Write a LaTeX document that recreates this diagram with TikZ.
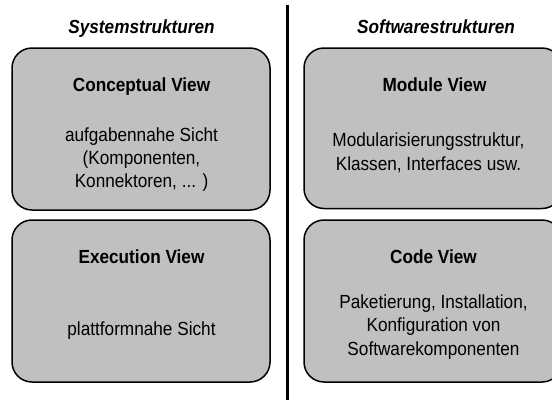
\documentclass[tikz,border=0pt]{standalone}
\usepackage{fontspec}
\setmainfont[FakeStretch=0.905]{Liberation Sans}
\begin{document}
\begin{tikzpicture}[x=1pt,y=-1pt,
  viewbox/.style={draw=black,line width=1.5pt,fill=boxgray,rounded corners=20pt,inner sep=0pt},
  txt/.style={inner sep=0pt,anchor=base,font=\fontsize{19}{23.3}\selectfont},
  head/.style={txt,font=\fontsize{19}{23.3}\selectfont\bfseries},
  coltitle/.style={txt,font=\fontsize{19}{23.3}\selectfont\bfseries\itshape},
  body/.style={inner sep=0pt,anchor=north,align=center,font=\fontsize{19}{23.3}\selectfont}]
\definecolor{boxgray}{HTML}{C0C0C0}
\useasboundingbox (0,0) rectangle (552,400);
\clip (0,0) rectangle (552,400);
% boxes
\node[viewbox,minimum width=258pt,minimum height=162pt] (conc) at (141,129) {};
\node[viewbox,minimum width=258pt,minimum height=162pt] (exec) at (141,301) {};
\node[viewbox,minimum width=258pt,minimum height=160.5pt] (mod) at (433,128.25) {};
\node[viewbox,minimum width=258pt,minimum height=162pt] (code) at (433,301) {};
% divider
\coordinate (dtop) at (287.7,5);
\coordinate (dbot) at (287.7,400);
\draw[line width=3pt] (dtop) -- (dbot);
% column titles
\node[coltitle] (tsys) at (141.5,33) {Systemstrukturen};
\node[coltitle] (tsoft) at (436,33) {Softwarestrukturen};
% conceptual view
\node[head] (hconc) at (141.5,91) {Conceptual View};
\node[body] (bconc) at (141.5,141-16.3) {\strut aufgabennahe Sicht\\\strut(Komponenten,\\\strut Konnektoren, ... )};
% execution view
\node[head] (hexec) at (141.5,263.3) {Execution View};
\node[txt] (bexec) at (141.5,335) {plattformnahe Sicht};
% module view
\node[head] (hmod) at (434.5,91) {Module View};
\node[body] (bmod) at (428.5,146.7-16.3) {\strut Modularisierungsstruktur,\\\strut Klassen, Interfaces usw.};
% code view
\node[head] (hcode) at (433.5,263.3) {Code View};
\node[body] (bcode) at (433.5,308.3-16.3) {\strut Paketierung, Installation,\\\strut Konfiguration von\\\strut Softwarekomponenten};
\end{tikzpicture}
\end{document}
